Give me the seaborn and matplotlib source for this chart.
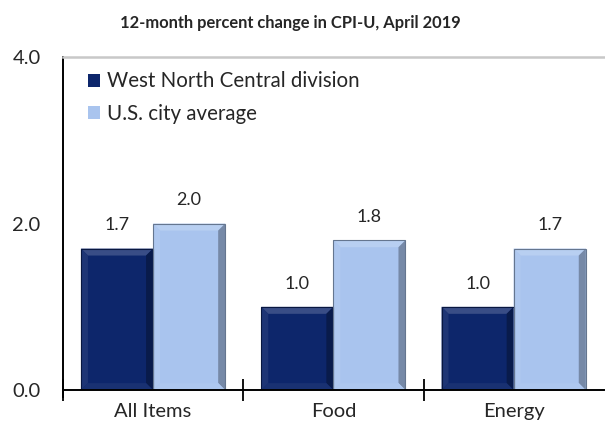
import matplotlib
matplotlib.use("Agg")
import matplotlib.pyplot as plt
import seaborn as sns
import pandas as pd
from matplotlib.patches import Polygon
from matplotlib.colors import to_rgb

categories = ["All Items", "Food", "Energy"]
series_names = ["West North Central division", "U.S. city average"]
west_north_central = [1.7, 1.0, 1.0]
us_city_average = [2.0, 1.8, 1.7]
y_ticks = [0.0, 2.0, 4.0]
title = "12-month percent change in CPI-U, April 2019"

colors = ["#0d266b", "#a9c4ee"]

sns.set_theme(style="white")
plt.rcParams["font.family"] = ["Lato", "DejaVu Sans"]

df = pd.DataFrame({
    "category": categories * 2,
    "series": [series_names[0]] * 3 + [series_names[1]] * 3,
    "value": west_north_central + us_city_average,
})

fig = plt.figure(figsize=(6.05, 4.32), dpi=100)
ax = fig.add_axes([0.104, 0.097, 0.894, 0.771])

sns.barplot(data=df, x="category", y="value", hue="series", order=categories,
            hue_order=series_names, palette=colors, width=0.8, saturation=1,
            edgecolor="none", linewidth=0, ax=ax, legend=True)

ax.set_xlim(-0.5, 2.5)
ax.set_ylim(0, 4.0)
ax.set_yticks(y_ticks)
ax.set_yticklabels([f"{v:.1f}" for v in y_ticks], fontsize=14.5)
ax.tick_params(axis="y", length=0, pad=16)

# category labels centred, separators between categories
ax.set_xticks([0, 1, 2])
ax.set_xticklabels(categories, fontsize=14.5)
ax.tick_params(axis="x", which="major", bottom=True, length=0, pad=9)
ax.set_xticks([-0.5, 0.5, 1.5], minor=True)
ax.tick_params(axis="x", which="minor", bottom=True, direction="inout", length=16,
               width=1.3, color="black")
ax.set_xlabel("")
ax.set_ylabel("")

for side in ["left", "bottom"]:
    ax.spines[side].set_color("black")
    ax.spines[side].set_linewidth(1.4)
ax.spines["right"].set_visible(False)
ax.spines["top"].set_color("#c8c8c8")
ax.spines["top"].set_linewidth(1.8)

fig.canvas.draw()


def shade(c, f):
    r, g, b = to_rgb(c)
    if f >= 0:
        return (r + (1 - r) * f, g + (1 - g) * f, b + (1 - b) * f)
    return (r * (1 + f), g * (1 + f), b * (1 + f))


# bevelled faces on every bar
to_data = ax.transData.inverted()
bx = to_data.transform((7, 0))[0] - to_data.transform((0, 0))[0]
by = to_data.transform((0, 7))[1] - to_data.transform((0, 0))[1]
bars = [p for p in ax.patches if p.get_height() > 0]
for p in bars:
    x0, y0 = p.get_x(), p.get_y()
    x1, y1 = x0 + p.get_width(), y0 + p.get_height()
    c = p.get_facecolor()[:3]
    faces = [
        ([(x0, y1), (x1, y1), (x1 - bx, y1 - by), (x0 + bx, y1 - by)], shade(c, 0.18)),
        ([(x0, y0), (x0, y1), (x0 + bx, y1 - by), (x0 + bx, y0 + by)], shade(c, 0.07)),
        ([(x1, y0), (x1, y1), (x1 - bx, y1 - by), (x1 - bx, y0 + by)], shade(c, -0.3)),
        ([(x0, y0), (x1, y0), (x1 - bx, y0 + by), (x0 + bx, y0 + by)], shade(c, 0.05)),
    ]
    for pts, fc in faces:
        ax.add_patch(Polygon(pts, closed=True, facecolor=fc, edgecolor="none",
                             zorder=p.get_zorder() + 0.1))
    ax.add_patch(plt.Rectangle((x0, y0), x1 - x0, y1 - y0, fill=False,
                               edgecolor=shade(c, -0.4), linewidth=0.8,
                               zorder=p.get_zorder() + 0.2))

# the left axis line runs a little below the baseline
ax.plot([-0.5, -0.5], [0, -0.1], color="black", linewidth=1.4, clip_on=False,
        solid_capstyle="butt")

for cont in ax.containers:
    ax.bar_label(cont, fmt="%.1f", padding=11, fontsize=13)

leg = ax.legend(loc="upper left", bbox_to_anchor=(0.02, 1.0), frameon=False, fontsize=14.8,
                handlelength=0.6, handleheight=0.6, handletextpad=0.3, labelspacing=0.6,
                borderaxespad=0.3)

fig.suptitle(title, x=0.48, y=0.965, fontsize=11.9, fontweight="bold")

fig.savefig("out.png", dpi=100)
